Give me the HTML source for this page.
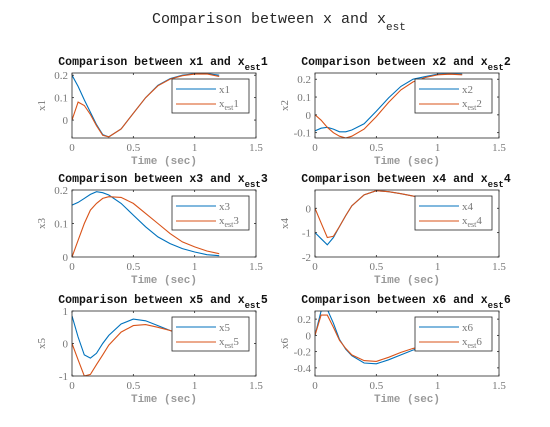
<!DOCTYPE html>
<html><head><meta charset="utf-8"><style>
body{margin:0;background:#fff;}
svg{display:block;}
</style></head><body>
<svg id="fig" width="550" height="427" viewBox="0 0 550 427" xmlns="http://www.w3.org/2000/svg">
<text x="152" y="23" font-family="Liberation Mono, monospace" font-size="15" fill="#262626">Comparison between x and x<tspan font-size="11" dy="7">est</tspan></text>
</svg>
<script>
const T = [0,0.05,0.1,0.15,0.2,0.25,0.3,0.4,0.5,0.6,0.7,0.8,0.9,1.0,1.1,1.2];
const x1 = [0.2,0.15,0.09,0.035,-0.02,-0.065,-0.075,-0.04,0.03,0.1,0.155,0.185,0.2,0.207,0.207,0.2];
const e1 = [0,0.08,0.065,0.025,-0.025,-0.068,-0.075,-0.04,0.03,0.1,0.153,0.183,0.198,0.205,0.206,0.195];
const x2 = [-0.09,-0.075,-0.07,-0.08,-0.095,-0.095,-0.085,-0.05,0.02,0.095,0.16,0.2,0.215,0.228,0.23,0.228];
const e2 = [0,-0.03,-0.07,-0.1,-0.12,-0.13,-0.12,-0.08,-0.01,0.07,0.14,0.185,0.21,0.225,0.228,0.225];
const x3 = [0.155,0.163,0.175,0.187,0.195,0.192,0.185,0.16,0.125,0.09,0.06,0.04,0.025,0.015,0.007,0.004];
const e3 = [0,0.05,0.1,0.14,0.16,0.175,0.18,0.178,0.16,0.13,0.1,0.07,0.045,0.03,0.018,0.01];
const x4 = [-1.0,-1.25,-1.5,-1.2,-0.75,-0.3,0.1,0.55,0.72,0.68,0.6,0.5,0.42,0.35,0.28,0.22];
const e4 = [0,-0.6,-1.2,-1.15,-0.75,-0.3,0.1,0.55,0.72,0.68,0.6,0.5,0.42,0.35,0.28,0.22];
const x5 = [0.85,0.2,-0.35,-0.45,-0.3,0.0,0.25,0.6,0.75,0.7,0.55,0.4,0.27,0.15,0.07,0.0];
const e5 = [0,-0.5,-1.0,-0.95,-0.65,-0.35,-0.05,0.35,0.55,0.58,0.5,0.4,0.27,0.15,0.07,0.0];
const x6 = [0,0.3,0.32,0.15,-0.05,-0.17,-0.25,-0.34,-0.35,-0.3,-0.24,-0.18,-0.15,-0.12,-0.09,-0.06];
const e6 = [0,0.25,0.25,0.1,-0.06,-0.16,-0.24,-0.31,-0.32,-0.27,-0.21,-0.16,-0.13,-0.1,-0.08,-0.05];
const xTicks = [0,0.5,1,1.5];
const xTickLabels = ["0","0.5","1","1.5"];
const yTicks1 = [0,0.1,0.2], yTicks2 = [-0.1,0,0.1,0.2], yTicks3 = [0,0.1,0.2];
const yTicks4 = [-2,-1,0], yTicks5 = [-1,0,1], yTicks6 = [-0.4,-0.2,0,0.2];

const NS="http://www.w3.org/2000/svg";
const svg=document.getElementById('fig');
function mk(tag,attrs,parent){const e=document.createElementNS(NS,tag);for(const k in attrs)e.setAttribute(k,attrs[k]);(parent||svg).appendChild(e);return e;}
const panels=[
 {n:1,x:x1,e:e1,yt:yTicks1,ylim:[-0.08,0.21],L:72,R:256,Tp:73,B:138},
 {n:2,x:x2,e:e2,yt:yTicks2,ylim:[-0.13,0.235],L:315,R:499,Tp:73,B:138},
 {n:3,x:x3,e:e3,yt:yTicks3,ylim:[0,0.2],L:72,R:256,Tp:190,B:257},
 {n:4,x:x4,e:e4,yt:yTicks4,ylim:[-2,0.75],L:315,R:499,Tp:190,B:257},
 {n:5,x:x5,e:e5,yt:yTicks5,ylim:[-1,1],L:72,R:256,Tp:311,B:376},
 {n:6,x:x6,e:e6,yt:yTicks6,ylim:[-0.5,0.3],L:315,R:499,Tp:311,B:376}];
panels.forEach(p=>{
 const g=mk('g',{});
 
 
 const sx=v=>p.L+(v/1.5)*(p.R-p.L);
 const sy=v=>p.B-(v-p.ylim[0])/(p.ylim[1]-p.ylim[0])*(p.B-p.Tp);
 const t=mk('text',{x:(p.L+p.R)/2-1,y:p.Tp-8,'text-anchor':'middle','font-family':'Liberation Mono, monospace','font-size':'11.5','font-weight':'bold',fill:'#111'},g);
 
 
 t.innerHTML='Comparison between x'+p.n+' and x<tspan font-size="9" dy="5">est</tspan><tspan dy="-5">'+p.n+'</tspan>';
 const clip=mk('clipPath',{id:'c'+p.n},g);mk('rect',{x:p.L,y:p.Tp,width:p.R-p.L,height:p.B-p.Tp},clip);
 [[p.x,'#0072BD','x'],[p.e,'#D95319','est']].forEach(([arr,c,nm])=>{
  const d=arr.map((v,i)=>(i?'L':'M')+sx(T[i]).toFixed(1)+','+sy(v).toFixed(1)).join('');
  const pa=mk('path',{d:d,fill:'none',stroke:c,'stroke-width':'1.1','clip-path':'url(#c'+p.n+')'},g);
  
  
 });
 const box=mk('rect',{x:p.L,y:p.Tp,width:p.R-p.L,height:p.B-p.Tp,fill:'none',stroke:'#262626','stroke-width':'0.8'},g);
 
 
 xTicks.forEach((v,i)=>{const X=sx(v);
  mk('line',{x1:X,x2:X,y1:p.B,y2:p.B-2,stroke:'#262626','stroke-width':'0.8'},g);
  mk('line',{x1:X,x2:X,y1:p.Tp,y2:p.Tp+2,stroke:'#262626','stroke-width':'0.8'},g);
  const tl=mk('text',{x:X,y:p.B+13,'text-anchor':'middle','font-family':'Liberation Serif, serif','font-size':'11',fill:'#777'},g);
  
  
  tl.textContent=xTickLabels[i];});
 p.yt.forEach(v=>{const Y=sy(v);
  mk('line',{x1:p.L,x2:p.L+2,y1:Y,y2:Y,stroke:'#262626','stroke-width':'0.8'},g);
  mk('line',{x1:p.R,x2:p.R-2,y1:Y,y2:Y,stroke:'#262626','stroke-width':'0.8'},g);
  const tl=mk('text',{x:p.L-4,y:Y+4,'text-anchor':'end','font-family':'Liberation Serif, serif','font-size':'11',fill:'#777'},g);
  
  
  tl.textContent=String(v);});
 const xl=mk('text',{x:(p.L+p.R)/2,y:p.B+26,'text-anchor':'middle','font-family':'Liberation Mono, monospace','font-size':'11','font-weight':'bold',fill:'#999'},g);
 
 
 xl.textContent='Time (sec)';
 const yc=(p.Tp+p.B)/2, yx=p.L-27;
 const yl=mk('text',{x:yx,y:yc,'text-anchor':'middle','font-family':'Liberation Serif, serif','font-size':'11',fill:'#777',transform:'rotate(-90 '+yx+' '+yc+')'},g);
 
 
 yl.textContent='x'+p.n;
 const lx=p.R-84, ly=p.Tp+6;
 const lg=mk('g',{},g);
 
 
 mk('rect',{x:lx,y:ly,width:77,height:34,fill:'#fff',stroke:'#262626','stroke-width':'0.8'},lg);
 mk('line',{x1:lx+4,x2:lx+44,y1:ly+10,y2:ly+10,stroke:'#0072BD','stroke-width':'1.1'},lg);
 mk('line',{x1:lx+4,x2:lx+44,y1:ly+25,y2:ly+25,stroke:'#D95319','stroke-width':'1.1'},lg);
 const a=mk('text',{x:lx+47,y:ly+14,'font-family':'Liberation Serif, serif','font-size':'11',fill:'#777'},lg);
 
 
 a.textContent='x'+p.n;
 const b=mk('text',{x:lx+47,y:ly+28,'font-family':'Liberation Serif, serif','font-size':'11',fill:'#777'},lg);
 
 
 b.innerHTML='x<tspan font-size="8" dy="3">est</tspan><tspan dy="-3">'+p.n+'</tspan>';
});
</script>
</body></html>
